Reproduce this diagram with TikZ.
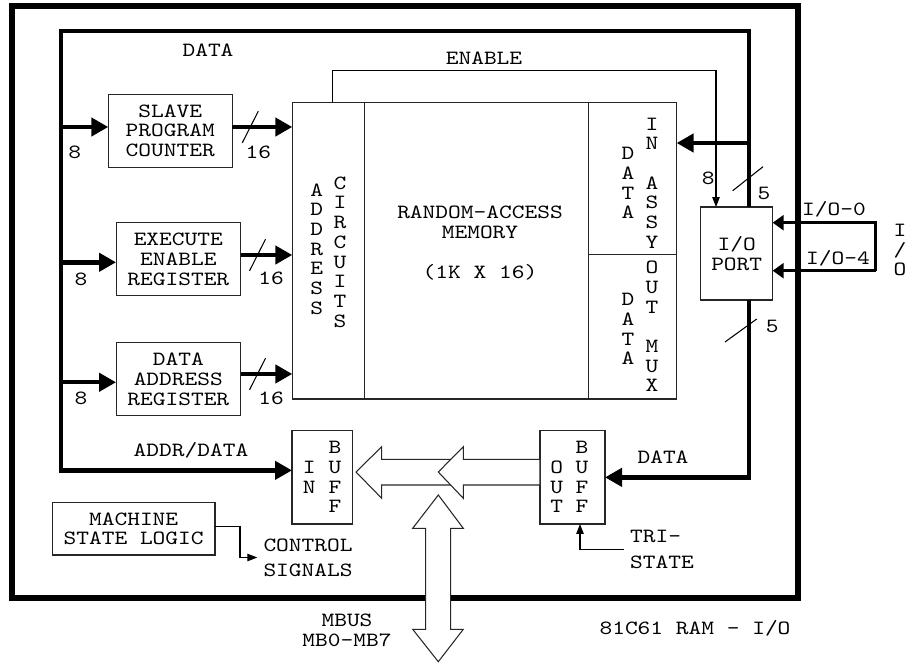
\documentclass[tikz,border=0pt]{standalone}
\usepackage{fontspec}
\setmonofont{lmmono10-regular.otf}[FakeStretch=1.2]
\usetikzlibrary{positioning, arrows.meta, calc}

% small slash across a bus line
\newcommand{\slashmark}[1]{\draw[busslash] (#1) ++(-8,15.8) -- ++(16,-31.6);}

\begin{document}
\begin{tikzpicture}[
    x=0.02cm, y=-0.02cm,
    every node/.style={font=\ttfamily\fontsize{11.5}{11.2}\selectfont},
    % boxes
    block/.style={draw=black!85, line width=0.6pt, rectangle, inner sep=0pt, outer sep=0pt, align=center},
    vtext/.style={align=center, inner sep=0pt},
    % lines
    chipframe/.style={line width=3.4pt},
    bus/.style={line width=2.5pt},
    busarrow/.style={bus, -{Triangle[length=0.34cm, width=0.36cm]}},
    ioarrow/.style={line width=1.8pt, -{Triangle[length=0.22cm, width=0.3cm]}},
    thinarrow/.style={line width=0.6pt, -{Triangle[length=0.2cm, width=0.15cm]}},
    busslash/.style={line width=0.6pt},
    hollow/.style={draw=black!85, line width=0.6pt, fill=white}
]
    \useasboundingbox (0,0) rectangle (912,663);

    % chip outline
    \draw[chipframe] (12.3,6.3) rectangle (797.5,598);

    % ==================== registers ====================
    \node (slave) [block, minimum width=2.48cm, minimum height=1.46cm] at (170.3,130.8) {SLAVE\\PROGRAM\\COUNTER};
    \node (exec) [block, minimum width=2.49cm, minimum height=1.46cm] at (178.3,259.2) {EXECUTE\\ENABLE\\REGISTER};
    \node (dar) [block, minimum width=2.49cm, minimum height=1.46cm, below=0.94cm of exec] {DATA\\ADDRESS\\REGISTER};

    % ==================== RAM ====================
    \node (addr) [block, minimum width=1.44cm, minimum height=5.926cm] at (328.3,250.85) {};
    \node (mem) [block, minimum width=4.48cm, minimum height=5.926cm, right=0pt of addr] {};
    \node (datain) [block, minimum width=1.768cm, minimum height=3.032cm, anchor=north west] at (mem.north east) {};
    \node (dataout) [block, minimum width=1.768cm, minimum height=2.894cm, anchor=north west] at (datain.south west) {};

    \node (addrtxt) [vtext] at (316.7,249) {A\\D\\D\\R\\E\\S\\S};
    \node (circtxt) [vtext] at (340,252) {C\\I\\R\\C\\U\\I\\T\\S};
    \node (memtxt) [align=center] at (480,243) {RANDOM-ACCESS\\MEMORY\\[0.4cm](1K X 16)};
    \node (dintxt) [vtext] at (628,183) {D\\A\\T\\A};
    \node (inassy) [vtext] at (652,183) {I\\N\\\mbox{}\\A\\S\\S\\Y};
    \node (douttxt) [vtext] at (628,329) {D\\A\\T\\A};
    \node (outmux) [vtext] at (652,326.5) {O\\U\\T\\\mbox{}\\M\\U\\X};

    % ==================== I/O port and buffers ====================
    \node (ioport) [block, minimum width=1.44cm, minimum height=1.86cm] at (736.7,253.5) {I/O\\PORT};

    \node (inbuff) [block, minimum width=1.206cm, minimum height=1.866cm] at (322.15,477.35) {};
    \node (intxt) [vtext] at (309.3,477) {I\\N};
    \node (inbufftxt) [vtext] at (335,477) {B\\U\\F\\F};

    \node (outbuff) [block, minimum width=1.3cm, minimum height=1.866cm] at (572.5,477.35) {};
    \node (outtxt) [vtext] at (556.7,487) {O\\U\\T};
    \node (outbufftxt) [vtext] at (582,477) {B\\U\\F\\F};

    \node (msl) [block, minimum width=3.254cm, minimum height=1.046cm] at (133.65,528.85) {MACHINE\\STATE LOGIC};

    % ==================== labels ====================
    \node (datalbl) at (208,50) {DATA};
    \node (enablelbl) at (484,58) {ENABLE};
    \node (addrdata) at (191,450) {ADDR/DATA};
    \node (datalbl2) at (663,457) {DATA};
    \node (ctrl) [align=left, anchor=west] at (257.3,557.5) {CONTROL\\[0.1cm]SIGNALS};
    \node (tristate) [align=left, anchor=west] at (624,549.7) {TRI-\\[0.12cm]STATE};
    \node (mbus) [align=center] at (347,630.5) {MBUS\\MB0-MB7};
    \node (title) at (695,628) {81C61 RAM - I/O};
    \node (io0) at (834,209) {I/O-0};
    \node (io4) at (838,258) {I/O-4};
    \node (iovert) [vtext] at (900,250) {I\\/\\O};

    \node (w8a) at (74.7,152) {8};
    \node (w8b) at (81,279) {8};
    \node (w8c) at (81,398) {8};
    \node (w16a) at (258.3,152) {16};
    \node (w16b) at (271,278) {16};
    \node (w16c) at (271,398) {16};
    \node (w8d) at (708.3,178.3) {8};
    \node (w5a) at (764,193.3) {5};
    \node (w5b) at (772.3,326) {5};

    % ==================== data bus ====================
    \coordinate (busTL) at (61,31);
    \coordinate (busTR) at (749,31);
    \coordinate (datatap) at (749,143);

    \draw[busarrow] (ioport.north -| busTR) -- (busTR) -- (busTL) |- ([yshift=0.14cm]inbuff.west);

    \draw[busarrow] ([yshift=0.076cm]slave.west -| busTL) -- ([yshift=0.076cm]slave.west);
    \draw[busarrow] ([yshift=-0.062cm]exec.west -| busTL) -- ([yshift=-0.062cm]exec.west);
    \draw[busarrow] ([yshift=-0.062cm]dar.west -| busTL) -- ([yshift=-0.062cm]dar.west);

    \draw[busarrow] ([yshift=0.076cm]slave.east) -- ([yshift=0.076cm]slave.east -| addr.west);
    \draw[busarrow] ([yshift=0.084cm]exec.east) -- ([yshift=0.084cm]exec.east -| addr.west);
    \draw[busarrow] ([yshift=0.104cm]dar.east) -- ([yshift=0.104cm]dar.east -| addr.west);

    \slashmark{[xshift=0.36cm, yshift=0.076cm]slave.east}
    \slashmark{[xshift=0.34cm, yshift=0.084cm]exec.east}
    \slashmark{[xshift=0.34cm, yshift=0.104cm]dar.east}

    \draw[busarrow] (datatap) -- (datatap -| datain.east);
    \draw[busarrow] ([xshift=0.246cm]ioport.south) |- (outbuff.east);

    \draw[busslash] (732.7,190.7) -- (763,166.7);
    \draw[busslash] (725,342) -- (756.7,319);

    % enable, tri-state, control
    \draw[thinarrow] ([xshift=0.08cm]addr.north) -- ++(0,-32) -| ([xshift=-0.414cm]ioport.north);
    \draw[thinarrow] (tristate.west) -| ([xshift=0.15cm]outbuff.south);
    \draw[thinarrow] ([yshift=0.04cm]msl.east) -- ++(25,0) |- (ctrl.west);

    % I/O lines
    \coordinate (ioT) at (875.7,222.7);
    \coordinate (ioB) at (875.7,270.7);
    \draw[ioarrow] (ioB) -- (ioT) -- (ioT -| ioport.east);
    \draw[ioarrow] (ioB) -- (ioB -| ioport.east);

    % ==================== MBUS arrows ====================
    \draw[hollow] (356,472) -- (381.7,446.7) -- (381.7,459.3) -- (463.3,459.3) -- (463.3,485) -- (381.7,485) -- (381.7,498.3) -- cycle;
    \draw[hollow] (438.3,472) -- (463.3,446.7) -- (463.3,459.3) -- (outbuff.west |- 0,459.3) -- (outbuff.west |- 0,485) -- (463.3,485) -- (463.3,498.3) -- cycle;
    \draw[hollow] (438.3,495) -- (463.3,528.3) -- (450.7,528.3) -- (450.7,629.3) -- (463.3,629.3) -- (438.3,661.7) -- (412.7,629.3) -- (425.7,629.3) -- (425.7,528.3) -- (412.7,528.3) -- cycle;

\end{tikzpicture}
\end{document}
